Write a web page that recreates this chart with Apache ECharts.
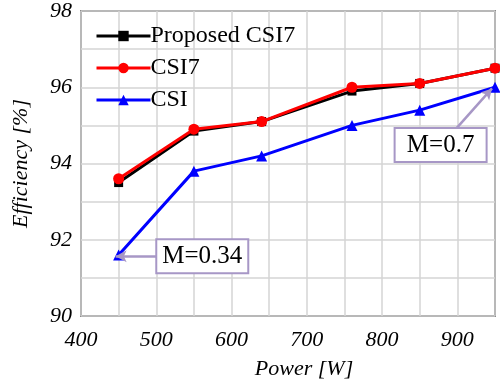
<!DOCTYPE html>
<html>
<head>
<meta charset="utf-8">
<script src="https://cdn.jsdelivr.net/npm/echarts@6/dist/echarts.min.js"></script>
<style>
    html, body { margin: 0; padding: 0; background: #fff; }
    #chart1 { width: 500px; height: 389px; }
</style>
</head>
<body>
<div id="chart1"></div>
<script>
    var powers = [450, 550, 640, 760, 850, 950];
    var proposedCSI7 = [93.5, 94.85, 95.1, 95.9, 96.1, 96.5];
    var csi7 = [93.6, 94.9, 95.1, 96.0, 96.1, 96.5];
    var csi = [91.6, 93.8, 94.2, 95.0, 95.4, 96.0];
    var seriesNames = ['Proposed CSI7', 'CSI7', 'CSI'];
    // annotations: label, arrow tip near the curve, arrow start at the box
    var noteLow = {text: 'M=0.34', tip: [446, 91.57], from: [500, 91.57]};
    var noteHigh = {text: 'M=0.7', tip: [946, 95.97], from: [899, 94.93]};

    var serif = '"Liberation Serif", "Times New Roman", serif';
    var noteColor = '#a797c6';

    function pairs(ys) {
        return powers.map(function (x, i) { return [x, ys[i]]; });
    }

    var chart1 = echarts.init(document.getElementById('chart1'));

    var option = {
        animation: false,
        grid: {
            left: 81, right: 5, top: 11, bottom: 73,
            show: true,
            borderColor: '#333',
            borderWidth: 1.5,
            backgroundColor: 'transparent'
        },
        legend: {
            orient: 'vertical',
            left: 90,
            top: 19,
            itemWidth: 54,
            itemHeight: 13,
            itemGap: 8,
            data: seriesNames,
            lineStyle: {width: 3},
            textStyle: {fontFamily: serif, fontSize: 24, color: '#000', padding: [0, 0, 0, -5]}
        },
        xAxis: {
            type: 'value',
            min: 400,
            max: 950,
            interval: 50,
            name: 'Power [W]',
            nameLocation: 'middle',
            nameGap: 42,
            nameTextStyle: {fontFamily: serif, fontSize: 22, fontStyle: 'italic', color: '#000', padding: [0, 0, 0, 32]},
            axisLine: {show: false},
            axisTick: {show: false},
            axisLabel: {
                fontFamily: serif, fontSize: 22, fontStyle: 'italic', color: '#000', margin: 13,
                showMaxLabel: false,
                formatter: function (v) { return v % 100 === 0 ? String(v) : ''; }
            },
            splitLine: {show: true, lineStyle: {color: '#d4d4d4', width: 1.5}}
        },
        yAxis: {
            type: 'value',
            min: 90,
            max: 98,
            interval: 1,
            name: 'Efficiency [%]',
            nameLocation: 'middle',
            nameGap: 49,
            nameTextStyle: {fontFamily: serif, fontSize: 22, fontStyle: 'italic', color: '#000'},
            axisLine: {show: false},
            axisTick: {show: false},
            axisLabel: {
                fontFamily: serif, fontSize: 22, fontStyle: 'italic', color: '#000', margin: 9,
                formatter: function (v) { return v % 2 === 0 ? String(v) : ''; }
            },
            splitLine: {show: true, lineStyle: {color: '#d4d4d4', width: 1.5}}
        },
        series: [
            {
                name: seriesNames[0], type: 'line', data: pairs(proposedCSI7),
                symbol: 'rect', symbolSize: 9, color: '#000', z: 3,
                lineStyle: {width: 3, color: '#000'}
            },
            {
                name: seriesNames[1], type: 'line', data: pairs(csi7),
                symbol: 'circle', symbolSize: 11, color: '#ff0000', z: 4,
                lineStyle: {width: 3, color: '#ff0000'}
            },
            {
                name: seriesNames[2], type: 'line', data: pairs(csi),
                symbol: 'triangle', symbolSize: 11, color: '#0000ff', z: 4,
                lineStyle: {width: 3, color: '#0000ff'},
                markLine: {
                    silent: true,
                    symbol: ['none', 'arrow'],
                    symbolSize: [9, 11],
                    label: {show: false},
                    lineStyle: {color: noteColor, width: 2.5, type: 'solid'},
                    data: [
                        [{coord: noteLow.from}, {coord: noteLow.tip}],
                        [{coord: noteHigh.from}, {coord: noteHigh.tip}]
                    ]
                }
            }
        ]
    };

    chart1.setOption(option);

    // label boxes placed from data coordinates
    function box(note, anchor) {
        var p = chart1.convertToPixel({gridIndex: 0}, note.from);
        var w = 92, h = 34;
        var x = anchor === 'left' ? p[0] : p[0] - w / 2 - 16;
        var y = anchor === 'left' ? p[1] - h / 2 : p[1];
        return {
            type: 'group', x: x, y: y, z: 10,
            children: [
                {type: 'rect', shape: {x: 0, y: 0, width: w, height: h},
                 style: {fill: '#fff', stroke: noteColor, lineWidth: 2}},
                {type: 'text', x: w / 2, y: h / 2,
                 style: {text: note.text, fontFamily: serif, fontSize: 25, fill: '#000',
                         align: 'center', verticalAlign: 'middle'}}
            ]
        };
    }

    chart1.setOption({graphic: [box(noteLow, 'left'), box(noteHigh, 'top')]});
</script>
</body>
</html>
